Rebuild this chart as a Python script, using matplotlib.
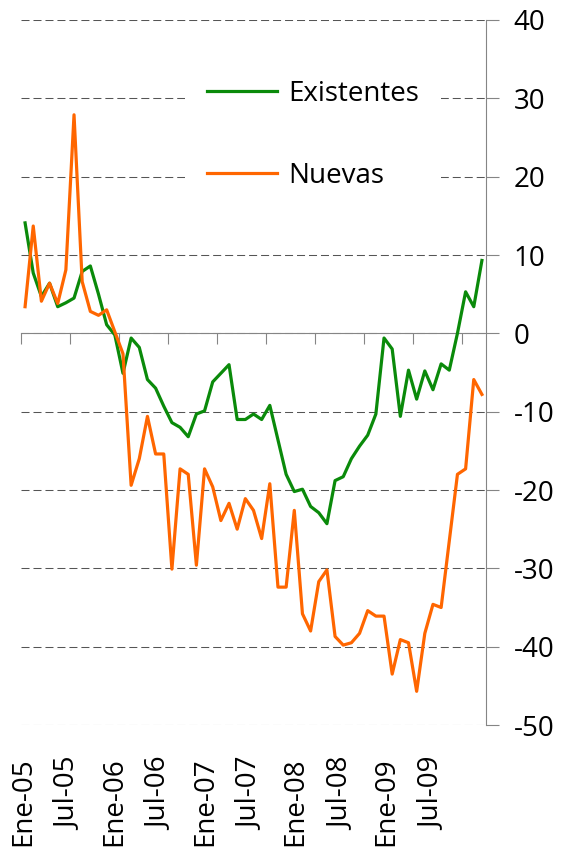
import numpy as np
import matplotlib
matplotlib.use('Agg')
import matplotlib.pyplot as plt
from matplotlib.transforms import blended_transform_factory

font_size = 20
plt.rcParams['font.family'] = ['Open Sans', 'DejaVu Sans']
plt.rcParams['font.size'] = font_size
plt.rcParams['axes.unicode_minus'] = False

# monthly series, Ene-05 .. Sep-09
existentes = [14.1, 7.7, 4.7, 6.4, 3.4, 3.9, 4.5, 7.9, 8.6, 5.0,
              1.1, -0.2, -5.1, -0.6, -1.8, -5.9, -7.0, -9.3, -11.4, -12.0,
              -13.2, -10.3, -9.9, -6.2, -5.1, -4.0, -11.0, -11.0, -10.3, -11.0,
              -9.2, -13.6, -18.0, -20.2, -19.9, -22.1, -22.9, -24.3, -18.8, -18.3,
              -16.0, -14.4, -13.0, -10.3, -0.6, -2.0, -10.6, -4.7, -8.4, -4.8,
              -7.2, -3.9, -4.7, 0.0, 5.3, 3.4, 9.3]
nuevas = [3.4, 13.7, 4.1, 6.4, 3.8, 8.1, 27.9, 6.6, 2.8, 2.3,
          3.0, 0.2, -2.6, -19.4, -16.0, -10.6, -15.4, -15.4, -30.1, -17.3,
          -18.0, -29.6, -17.3, -19.6, -23.9, -21.7, -25.0, -21.1, -22.6, -26.2,
          -19.2, -32.4, -32.4, -22.6, -35.8, -38.0, -31.7, -30.2, -38.7, -39.8,
          -39.5, -38.3, -35.4, -36.1, -36.1, -43.5, -39.1, -39.5, -45.7, -38.3,
          -34.6, -35.0, -26.5, -18.0, -17.3, -5.9, -7.8]
xlabels = ['Ene-05', 'Jul-05', 'Ene-06', 'Jul-06', 'Ene-07',
           'Jul-07', 'Ene-08', 'Jul-08', 'Ene-09', 'Jul-09']
yticks = np.arange(-50, 41, 10)

x = np.arange(len(existentes))

W, H = 562, 855
fig = plt.figure(figsize=(W/100, H/100), dpi=100)
ax = fig.add_axes([21/W, 1-725/H, 465/W, 705/H])

c_green = '#0a8a0a'
c_orange = '#ff6600'
axc = '#858585'

# dashed horizontal grid
for v in yticks:
    ax.axhline(v, color='#555555', lw=0.75, ls=(0, (7.7, 3.8)), zorder=1)

ax.plot(x, existentes, color=c_green, lw=2.3, label='Existentes', zorder=3)
ax.plot(x, nuevas, color=c_orange, lw=2.3, label='Nuevas', zorder=3)

ax.set_xlim(-0.5, len(x)-0.5)
ax.set_ylim(-50, 40)

ax.spines['left'].set_visible(False)
ax.spines['top'].set_visible(False)
ax.spines['bottom'].set_position(('data', 0))
ax.spines['bottom'].set_color(axc)
ax.spines['right'].set_color(axc)
ax.spines['bottom'].set_zorder(2)

ax.yaxis.tick_right()
ax.set_yticks(yticks)
ax.tick_params(axis='y', direction='out', length=9, width=0.8, color=axc,
               pad=11, labelsize=font_size)

# tick marks every 6 months, between categories
ax.set_xticks(np.arange(-0.5, len(x)-3, 6))
ax.set_xticklabels([])
ax.tick_params(axis='x', direction='out', length=8, width=0.8, color=axc)

# category labels down at the bottom
trans = blended_transform_factory(ax.transData, fig.transFigure)
lab_pos = -0.25 + 5.57*np.arange(len(xlabels))
for p, s in zip(lab_pos, xlabels):
    ax.text(p, 1-757/H, s, rotation=90, ha='center', va='top',
            transform=trans, fontsize=font_size, clip_on=False)

leg = ax.legend(loc='upper left', bbox_to_anchor=(185/W, 1-58/H),
                bbox_transform=fig.transFigure, borderaxespad=0,
                frameon=True, fancybox=False, framealpha=1,
                facecolor='white', edgecolor='none',
                handlelength=2.5, handletextpad=0.4, labelspacing=1.93,
                borderpad=0.8, fontsize=font_size)
leg.set_zorder(5)

plt.savefig('out.png', dpi=100)
